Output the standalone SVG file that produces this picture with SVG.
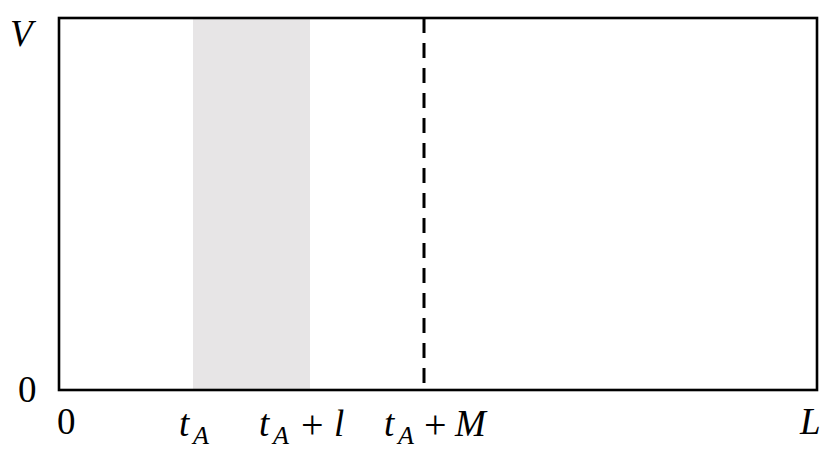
<svg xmlns="http://www.w3.org/2000/svg" width="824" height="454" viewBox="0 0 824 454">
<style>
.m{font-family:"Liberation Serif","Times New Roman",serif;font-size:37px;fill:#000}
.i{font-style:italic}
.s{font-size:26px;font-style:italic}
.p{font-size:40px}
</style>
<rect x="0" y="0" width="824" height="454" fill="#fff"/>
<g id="band"><rect x="193" y="19" width="117" height="370" fill="#e7e5e6"/></g>
<g id="frame"><rect x="59" y="18" width="758" height="372" fill="none" stroke="#000" stroke-width="2.6"/></g>
<g id="connectors"><line x1="424" y1="18" x2="424" y2="389" stroke="#000" stroke-width="3" stroke-dasharray="15 10"/></g>
<g id="labels">
<text class="m i" x="10" y="46">V</text>
<text class="m" x="18" y="402">0</text>
<text class="m" x="57" y="434">0</text>
<text class="m" x="179" y="436"><tspan class="i">t</tspan><tspan class="s" x="193" y="444">A</tspan></text>
<text class="m" x="259" y="436"><tspan class="i">t</tspan><tspan class="s" x="273" y="444">A</tspan><tspan class="p" x="301" y="438">+</tspan><tspan class="i" x="334" y="436">l</tspan></text>
<text class="m" x="384" y="436"><tspan class="i">t</tspan><tspan class="s" x="398" y="444">A</tspan><tspan class="p" x="424" y="438">+</tspan><tspan class="i" x="455" y="436">M</tspan></text>
<text class="m i" x="800" y="434">L</text>
</g>
</svg>
